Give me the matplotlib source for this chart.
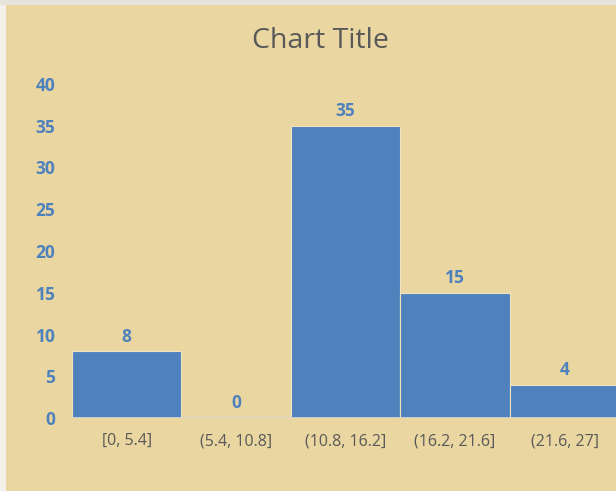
import matplotlib
matplotlib.use('Agg')
import matplotlib.pyplot as plt
from matplotlib.patches import Rectangle

# histogram bins and counts
bins = ['[0, 5.4]', '(5.4, 10.8]', '(10.8, 16.2]', '(16.2, 21.6]', '(21.6, 27]']
counts = [8, 0, 35, 15, 4]
yticks = [0, 5, 10, 15, 20, 25, 30, 35, 40]

BLUE = '#4F81BD'
PAPER = '#E9D6A0'
GREY_TXT = '#595959'

plt.rcParams['font.family'] = ['Open Sans', 'DejaVu Sans']

fig = plt.figure(figsize=(6.16, 4.91), dpi=100, facecolor=PAPER)
# thin light strips on top / left like the source screenshot
fig.patches.append(Rectangle((0, 0), 6 / 616, 1, transform=fig.transFigure,
                             facecolor='#F4F1EA', edgecolor='none', zorder=-10))
fig.patches.append(Rectangle((0, 1 - 5 / 491), 1, 5 / 491, transform=fig.transFigure,
                             facecolor='#E6E3DC', edgecolor='none', zorder=-10))

ax = fig.add_axes([72 / 616, 73 / 491, 1 - 72 / 616, 334 / 491])
ax.set_facecolor('none')

x = list(range(len(bins)))
ax.bar(x, counts, width=1.0, color=BLUE, edgecolor='#EDE3C0', linewidth=0.8, zorder=2)
ax.axhline(0, color='#D9D9D9', lw=1.2, zorder=3)

for xi, c in zip(x, counts):
    ax.annotate(str(c), (xi, c), xytext=(0, 4), textcoords='offset points',
                ha='center', va='bottom', color=BLUE, fontsize=12.5, fontweight='bold')

ax.set_xlim(-0.5, 4.47)
ax.set_ylim(0, 40)
ax.set_yticks(yticks)
ax.set_yticklabels([str(t) for t in yticks], color=BLUE, fontsize=12.5, fontweight='bold')
ax.set_xticks(x)
ax.set_xticklabels(bins, color=GREY_TXT, fontsize=11.5)
ax.tick_params(axis='y', length=0, pad=12)
ax.tick_params(axis='x', length=0, pad=11)
for s in ax.spines.values():
    s.set_visible(False)

fig.text(320 / 616, 1 - 41 / 491, 'Chart Title', ha='center', va='center',
         fontsize=20.5, color=GREY_TXT)

fig.savefig('out.png', dpi=100)
